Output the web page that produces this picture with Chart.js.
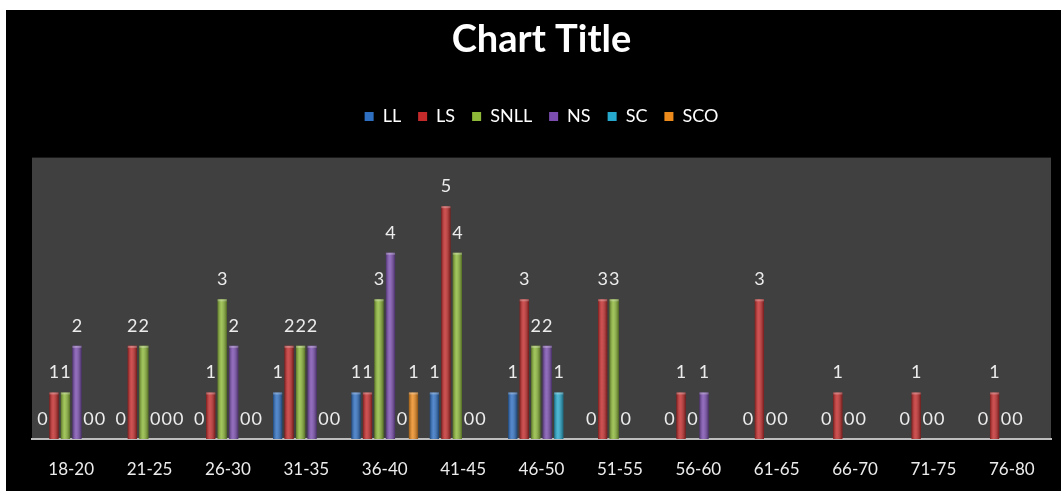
<!DOCTYPE html>
<html>
<head>
<meta charset="utf-8">
<title>Chart Title</title>
<script src="https://cdn.jsdelivr.net/npm/chart.js@4/dist/chart.umd.min.js"></script>
<style>
  html, body { margin: 0; padding: 0; background: #fff; }
  #wrap { width: 1061px; height: 491px; }
</style>
</head>
<body>
<div id="wrap"><canvas id="ageChart" width="1061" height="491"></canvas></div>
<script>
// Age groups along the x axis
const ageGroups = ["18-20", "21-25", "26-30", "31-35", "36-40", "41-45", "46-50",
                   "51-55", "56-60", "61-65", "66-70", "71-75", "76-80"];

// Counts per group (null = no entry for that group)
const llCounts   = [0, 0, 0, 1, 1, 1, 1, 0, 0, 0, 0, 0, 0];
const lsCounts   = [1, 2, 1, 2, 1, 5, 3, 3, 1, 3, 1, 1, 1];
const snllCounts = [1, 2, 3, 2, 3, 4, 2, 3, 0, 0, 0, 0, 0];
const nsCounts   = [2, 0, 2, 2, 4, 0, 2, 0, 1, 0, 0, 0, 0];
const scCounts   = [0, 0, 0, 0, 0, 0, 1, null, null, null, null, null, null];
const scoCounts  = [0, 0, 0, 0, 1, null, null, null, null, null, null, null, null];

const FONT = "Lato, 'Open Sans', sans-serif";

function series(label, data, color) {
    return {
        label: label,
        data: data,
        backgroundColor: color,
        borderWidth: 0,
        categoryPercentage: 0.88,
        barPercentage: 0.8
    };
}

// Black chart background with a gray plot area
const backdrop = {
    id: "backdrop",
    beforeDraw(chart) {
        const c = chart.ctx, a = chart.chartArea;
        c.save();
        c.fillStyle = "#ffffff";
        c.fillRect(0, 0, chart.width, chart.height);
        c.fillStyle = "#000000";
        c.fillRect(6, 10, chart.width - 6, chart.height - 10);
        c.fillStyle = "#404040";
        c.fillRect(a.left, a.top - 2, a.right - a.left, a.bottom - a.top + 2);
        c.restore();
    }
};

// Extra room between the legend and the plot area
const legendGap = {
    id: "legendGap",
    beforeInit(chart) {
        const fit = chart.legend.fit;
        chart.legend.fit = function () {
            fit.call(this);
            this.height += 24;
        };
    }
};

// Cylinder shading on each bar plus the value labels above
const barLabels = {
    id: "barLabels",
    afterDatasetsDraw(chart) {
        const c = chart.ctx;
        c.save();
        chart.data.datasets.forEach((ds, i) => {
            const meta = chart.getDatasetMeta(i);
            meta.data.forEach((bar, j) => {
                const v = ds.data[j];
                if (v === null || v === undefined) return;
                const h = bar.base - bar.y;
                if (h > 0) {
                    const l = bar.x - bar.width / 2, r = bar.x + bar.width / 2;
                    const g = c.createLinearGradient(l, 0, r, 0);
                    g.addColorStop(0, "rgba(0,0,0,0.35)");
                    g.addColorStop(0.4, "rgba(255,255,255,0.18)");
                    g.addColorStop(1, "rgba(0,0,0,0.4)");
                    c.fillStyle = g;
                    c.fillRect(l, bar.y, bar.width, h);
                    c.fillStyle = "rgba(255,255,255,0.25)";
                    c.fillRect(l, bar.y, bar.width, 2);
                }
                c.fillStyle = "#ececec";
                c.font = "18px " + FONT;
                c.textAlign = "center";
                c.textBaseline = "middle";
                c.fillText(String(v), bar.x, bar.y - 20);
            });
        });
        c.restore();
    }
};

new Chart(document.getElementById("ageChart"), {
    type: "bar",
    data: {
        labels: ageGroups,
        datasets: [
            series("LL", llCounts, "#2e6fc2"),
            series("LS", lsCounts, "#c42a2a"),
            series("SNLL", snllCounts, "#8db838"),
            series("NS", nsCounts, "#7a4daf"),
            series("SC", scCounts, "#26a8cc"),
            series("SCO", scoCounts, "#ec8a1c")
        ]
    },
    options: {
        responsive: false,
        animation: false,
        layout: { padding: { left: 32, right: 10, top: 12, bottom: 0 } },
        plugins: {
            title: {
                display: true,
                text: "Chart Title",
                color: "#ffffff",
                font: { family: FONT, size: 38, weight: "bold" },
                padding: { top: 5, bottom: 28 }
            },
            legend: {
                display: true,
                labels: {
                    color: "#ffffff",
                    font: { family: FONT, size: 18 },
                    boxWidth: 9,
                    boxHeight: 9,
                    padding: 17
                }
            },
            tooltip: { enabled: false }
        },
        scales: {
            x: {
                grid: { display: false, drawTicks: false },
                border: { display: true, color: "#bdbdbd", width: 2 },
                ticks: { color: "#ececec", font: { family: FONT, size: 17 }, padding: 20 },
                afterFit(scale) {
                    scale.height = 52;
                }
            },
            y: {
                display: false,
                min: 0,
                max: 6
            }
        }
    },
    plugins: [backdrop, legendGap, barLabels]
});
</script>
</body>
</html>
